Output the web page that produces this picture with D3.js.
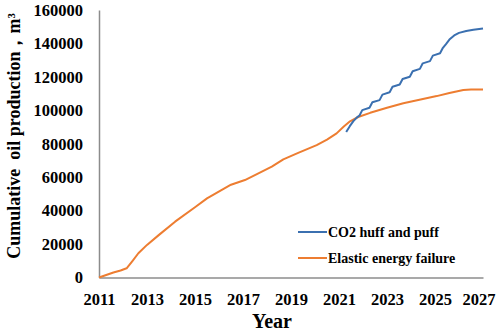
<!DOCTYPE html>
<html>
<head>
<meta charset="utf-8">
<script src="https://cdn.jsdelivr.net/npm/d3@7"></script>
<style>
  body { margin: 0; background: #fff; }
  svg { display: block; font-family: "Liberation Serif", "Times New Roman", serif; font-weight: bold; }
  .axis path { stroke: #8c8c8c; stroke-width: 1.5; }
  .axis text { font-family: "Liberation Serif", serif; font-weight: bold; fill: #000; }
</style>
</head>
<body>
<svg width="498" height="333"></svg>
<script>
// years on x, cumulative oil production (m3) on y
let elasticYears = [2011.0, 2011.3, 2011.6, 2011.9, 2012.15, 2012.4, 2012.64, 2013.0, 2013.5, 2014.17,
	2015.0, 2015.5, 2016.1, 2016.5, 2017.08, 2017.6, 2018.2, 2018.68, 2019.3, 2020.07,
	2020.5, 2020.9, 2021.2, 2021.46, 2021.8, 2022.3, 2023.0, 2023.68, 2024.4, 2025.07,
	2025.6, 2026.18, 2026.5, 2027.0];
let elasticValues = [0, 1500, 3000, 4200, 5500, 10000, 14500, 19500, 25500, 33400,
	42000, 47300, 52300, 55500, 58300, 62000, 66300, 70700, 74500, 79200,
	82500, 86200, 90300, 93400, 96000, 98500, 101500, 104200, 106500, 108500,
	110300, 112100, 112500, 112500];

let co2Years = [2021.3, 2021.45, 2021.6, 2021.75, 2021.85, 2021.97, 2022.27, 2022.39, 2022.69, 2022.81,
	2023.11, 2023.23, 2023.53, 2023.65, 2023.95, 2024.07, 2024.37, 2024.49, 2024.79, 2024.91,
	2025.21, 2025.33, 2025.45, 2025.6, 2025.8, 2026.0, 2026.3, 2026.6, 2027.0];
let co2Values = [87000, 90500, 93500, 95800, 96800, 100100, 101500, 104800, 106100, 109400,
	110800, 114100, 115400, 118700, 120100, 123400, 124800, 128100, 129400, 132700,
	134100, 137400, 139500, 142300, 144800, 146300, 147400, 148200, 149000];

let xTicks = [2011, 2013, 2015, 2017, 2019, 2021, 2023, 2025, 2027];
let yTicks = [0, 20000, 40000, 60000, 80000, 100000, 120000, 140000, 160000];

let seriesNames = ['CO2 huff and puff', 'Elastic energy failure'];
let seriesColors = ['#3b70b0', '#ed7d31'];

let svg = d3.select('svg');
let plotLeft = 99, plotRight = 483, plotTop = 10, plotBottom = 277.5;

let xScale = d3.scaleLinear().domain([2011, 2027]).range([plotLeft, plotRight]);
let yScale = d3.scaleLinear().domain([0, 160000]).range([plotBottom, plotTop]);

// y axis
svg.append('g').attr('class', 'axis')
	.attr('transform', 'translate(' + plotLeft + ',0)')
	.call(d3.axisLeft(yScale).tickValues(yTicks).tickSize(0).tickPadding(16).tickSizeOuter(0).tickFormat(d3.format('d')))
	.selectAll('text').attr('font-size', 16.5);

// x axis
let xAxis = svg.append('g').attr('class', 'axis')
	.attr('transform', 'translate(0,' + plotBottom + ')')
	.call(d3.axisBottom(xScale).tickValues(xTicks).tickSize(0).tickPadding(16).tickSizeOuter(0).tickFormat(d3.format('d')));
xAxis.selectAll('text').attr('font-size', 16.5);
// last label is pushed in so it stays inside the frame
xAxis.selectAll('.tick:last-of-type text').attr('text-anchor', 'end').attr('x', 12);

let line = d3.line()
	.x(function(d) { return xScale(d[0]); })
	.y(function(d) { return yScale(d[1]); });

let elastic = d3.zip(elasticYears, elasticValues);
let co2 = d3.zip(co2Years, co2Values);

svg.append('path').datum(elastic)
	.attr('fill', 'none').attr('stroke', seriesColors[1]).attr('stroke-width', 2)
	.attr('stroke-linejoin', 'round').attr('d', line);

svg.append('path').datum(co2)
	.attr('fill', 'none').attr('stroke', seriesColors[0]).attr('stroke-width', 2)
	.attr('stroke-linejoin', 'round').attr('d', line);

// legend
let legend = svg.append('g').attr('transform', 'translate(298,232)');
seriesNames.forEach(function(name, i) {
	let g = legend.append('g').attr('transform', 'translate(0,' + (i * 26) + ')');
	g.append('line').attr('x1', 0).attr('x2', 29).attr('y1', 0).attr('y2', 0)
		.attr('stroke', seriesColors[i]).attr('stroke-width', 2);
	g.append('text').attr('x', 30).attr('y', 5)
		.attr('font-size', 14).text(name);
});

// axis titles
svg.append('text')
	.attr('x', 272).attr('y', 328)
	.attr('text-anchor', 'middle').attr('font-size', 20)
	.text('Year');

svg.append('text')
	.attr('transform', 'translate(20,136) rotate(-90)')
	.attr('text-anchor', 'middle').attr('font-size', 18)
	.attr('xml:space', 'preserve')
	.text('Cumulative  oil production，m³');
</script>
</body>
</html>
